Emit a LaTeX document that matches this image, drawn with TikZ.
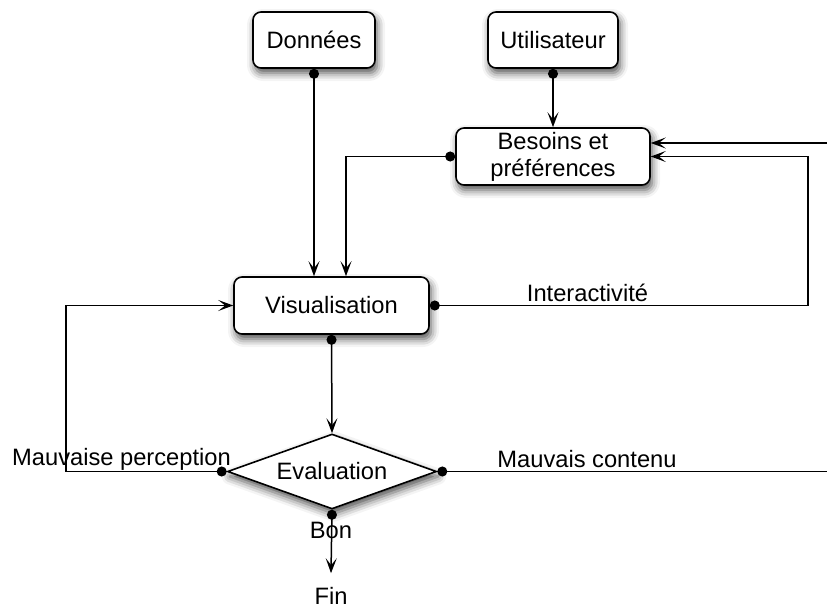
\documentclass[tikz,border=0pt]{standalone}
\usepackage{fontspec}
\setmainfont{Liberation Sans}
\usetikzlibrary{arrows.meta,shapes.geometric,shadows.blur}
\tikzset{
  shad/.style={blur shadow={shadow xshift=2pt, shadow yshift=-5pt, shadow blur radius=8pt, shadow opacity=70}},
  box/.style={draw, line width=1.6pt, fill=white, rounded corners=8pt, inner sep=0pt, shad, align=center},
  diam/.style={draw, diamond, line width=1.6pt, fill=white, inner sep=0pt, shad},
  lbl/.style={inner sep=0pt},
  conn/.style={line width=1.5pt, arrows={Circle[length=10pt]-Stealth[length=15pt,width=11pt,inset=7pt]}},
  dotline/.style={line width=1.5pt, arrows={Circle[length=10pt]-}},
  arrline/.style={line width=1.5pt, arrows={-Stealth[length=15pt,width=11pt,inset=7pt]}}
}
\begin{document}
\begin{tikzpicture}[x=1pt, y=-1pt, font=\fontsize{23.7}{27}\selectfont]
\useasboundingbox (0,0) rectangle (827,610);
% nodes
\node[box, minimum width=122pt, minimum height=56pt] (don) at (314,40) {Données};
\node[box, minimum width=130pt, minimum height=56pt] (usr) at (553,40) {Utilisateur};
\node[box, minimum width=194pt, minimum height=57pt] (bes) at (553,156.5) {Besoins et\\préférences};
\node[box, minimum width=195pt, minimum height=57pt] (vis) at (331.5,305.5) {Visualisation};
\node[diam, minimum width=209pt, minimum height=75pt, aspect=2.79] (ev) at (332,471.5) {Evaluation};
\node[lbl] (fin) at (331,596) {Fin};
% labels
\node[lbl] (lint) at (587.5,293) {Interactivité};
\node[lbl] (lmp) at (121.5,459) {Mauvaise perception};
\node[lbl] (lmc) at (587,459) {Mauvais contenu};
\node[lbl] (lbon) at (331,530) {Bon};
% coordinates
\coordinate (loopR) at (808,156.5);
\coordinate (inR) at (827,143);
\coordinate (loopL) at (66,305.5);
\coordinate (outR) at (827,471.5);
% connectors
\draw[conn] (don.south) -- (don.south |- vis.north);
\draw[conn] (usr.south) -- (bes.north);
\draw[conn] (bes.west) -| ([xshift=14.5pt]vis.north);
\draw[conn] (vis.east) -| (loopR) -- (bes.east);
\draw[arrline] (inR) -- (inR -| bes.east);
\draw[conn] (vis.south) -- (ev.north);
\draw[conn] (ev.west) -| (loopL) -- (vis.west);
\draw[dotline] (ev.east) -- (outR);
\draw[conn] (ev.south) -- ([yshift=14pt]fin.north);
\end{tikzpicture}
\end{document}
